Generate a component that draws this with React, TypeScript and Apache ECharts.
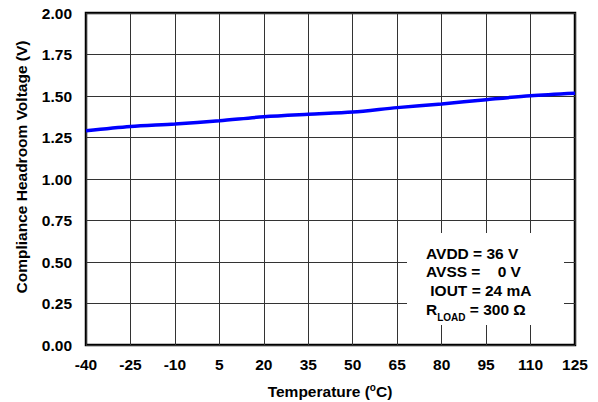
import React, { useEffect, useRef } from "react";
import * as echarts from "echarts";

const temperatures = ["-40", "-25", "-10", "5", "20", "35", "50", "65", "80", "95", "110", "125"];
const headroom = [1.29, 1.316, 1.331, 1.351, 1.375, 1.39, 1.403, 1.43, 1.452, 1.478, 1.502, 1.517];
const yTicks = { min: 0, max: 2, interval: 0.25 };
const yTitle = "Compliance Headroom Voltage (V)";
const annotation = ["AVDD = 36 V", "AVSS =    0 V", " IOUT = 24 mA"];

const FONT = "'Liberation Sans', Arial, Helvetica, sans-serif";

export default function App() {
  const ref = useRef<HTMLDivElement>(null);
  useEffect(() => {
    if (!ref.current) return;
    const chart = echarts.init(ref.current, null, { renderer: "svg" });
    const fs = 15.5;
    const textStyle = { fontFamily: FONT, fontWeight: "bold", fontSize: fs, fill: "#000" };
    chart.setOption({
      animation: false,
      grid: {
        left: 86,
        right: 23,
        top: 13,
        bottom: 57,
        show: true,
        borderColor: "#000",
        borderWidth: 2.5,
        backgroundColor: "transparent",
        outerBoundsMode: "none",
        containLabel: false,
      },
      xAxis: {
        type: "category",
        data: temperatures,
        boundaryGap: false,
        axisLine: { show: false },
        axisTick: { show: false },
        axisLabel: {
          interval: 0,
          margin: 11,
          fontFamily: FONT,
          fontWeight: "bold",
          fontSize: fs,
          color: "#000",
        },
        splitLine: { show: true, interval: 0, lineStyle: { color: "#333", width: 1 } },
      },
      yAxis: {
        type: "value",
        min: yTicks.min,
        max: yTicks.max,
        interval: yTicks.interval,
        axisLine: { show: false },
        axisTick: { show: false },
        axisLabel: {
          margin: 14,
          fontFamily: FONT,
          fontWeight: "bold",
          fontSize: fs,
          color: "#000",
          formatter: (v: number) => v.toFixed(2),
        },
        splitLine: { show: true, lineStyle: { color: "#333", width: 1 } },
      },
      series: [
        {
          type: "line",
          data: headroom,
          smooth: 0.3,
          symbol: "none",
          lineStyle: { color: "#0000ff", width: 3.5 },
          z: 5,
        },
      ],
      graphic: [
        {
          type: "rect",
          shape: { x: 407, y: 233, width: 157, height: 92 },
          style: { fill: "#fff" },
          z: 10,
        },
        ...annotation.map((t, i) => ({
          type: "text",
          x: 426,
          y: 253 + i * 18.6,
          z: 11,
          style: { ...textStyle, text: t, textVerticalAlign: "middle", verticalAlign: "middle" },
        })),
        {
          type: "text",
          x: 426,
          y: 309,
          z: 11,
          style: {
            text: "{b|R}{sub|LOAD}{b| = 300 Ω}",
            verticalAlign: "middle",
            rich: {
              b: { fontFamily: FONT, fontWeight: "bold", fontSize: fs, color: "#000", verticalAlign: "middle", lineHeight: 18 },
              sub: { fontFamily: FONT, fontWeight: "bold", fontSize: 10, color: "#000", verticalAlign: "bottom", padding: [0, 0, -4, 0], lineHeight: 18 },
            },
          },
        },
        {
          type: "text",
          x: 21,
          y: 167,
          rotation: Math.PI / 2,
          style: { ...textStyle, text: yTitle, align: "center", verticalAlign: "middle" },
        },
        {
          type: "text",
          x: 330,
          y: 391,
          style: {
            text: "{a|Temperature (}{s|o}{a|C)}",
            align: "center",
            verticalAlign: "middle",
            rich: {
              a: { fontFamily: FONT, fontWeight: "bold", fontSize: fs, color: "#000", verticalAlign: "middle", lineHeight: 18 },
              s: { fontFamily: FONT, fontWeight: "bold", fontSize: 10, color: "#000", verticalAlign: "top", lineHeight: 18, padding: [0, 0, 4, 0] },
            },
          },
        },
      ],
    });
    return () => chart.dispose();
  }, []);
  return <div ref={ref} style={{ width: 598, height: 402, position: "absolute", left: 0, top: 0, background: "#fff" }} />;
}
